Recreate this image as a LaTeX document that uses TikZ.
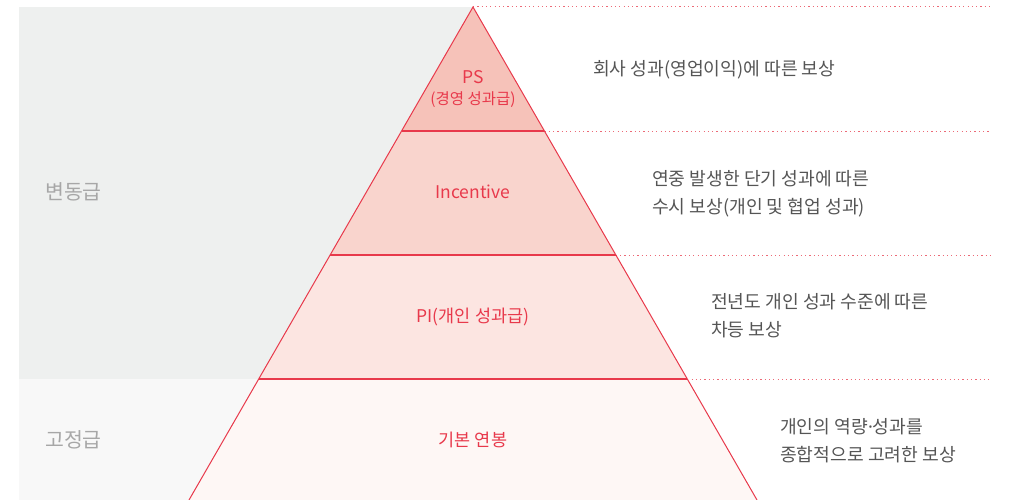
\documentclass[tikz,border=0pt]{standalone}
\usepackage{fontspec}
\setmainfont{Noto Sans CJK KR}
\newfontfamily\dotfont{Noto Sans}
\definecolor{graya}{HTML}{EEF0EF}
\definecolor{grayb}{HTML}{F8F8F8}
\definecolor{banda}{HTML}{F6C2B9}
\definecolor{bandb}{HTML}{F9D4CD}
\definecolor{bandc}{HTML}{FCE5E1}
\definecolor{bandd}{HTML}{FEF7F5}
\definecolor{pred}{HTML}{E8394B}
\definecolor{dotred}{HTML}{EC6A77}
\definecolor{lblgray}{HTML}{A7A7A7}
\definecolor{txtgray}{HTML}{555555}
\begin{document}
\begin{tikzpicture}[x=1pt,y=-1pt,
  inner/.style={text=pred,font=\fontsize{17.5}{19}\selectfont,inner sep=0pt,anchor=center},
  side/.style={text=lblgray,font=\fontsize{20.5}{22}\selectfont,inner sep=0pt,anchor=west},
  desc/.style={text=txtgray,font=\fontsize{18.2}{28}\selectfont,inner sep=0pt,anchor=west,align=left},
  guide/.style={dotred,line width=1pt,dash pattern=on 1.2pt off 3.1pt},
  edge/.style={pred,line width=1pt},
  bandline/.style={pred,line width=1.2pt}]
\useasboundingbox (0,0) rectangle (1019,500);
% background panels
\fill[graya] (19,7) rectangle (473,379);
\fill[grayb] (19,379) rectangle (473,500);
% triangle corner coordinates
\coordinate (apex) at (473,7);
\coordinate (l1) at (401.6,131); \coordinate (r1) at (544.4,131);
\coordinate (l2) at (330.2,255); \coordinate (r2) at (615.8,255);
\coordinate (l3) at (258.8,379); \coordinate (r3) at (687.2,379);
\coordinate (l4) at (189,500);   \coordinate (r4) at (757,500);
% bands
\fill[banda] (apex) -- (r1) -- (l1) -- cycle;
\fill[bandb] (l1) -- (r1) -- (r2) -- (l2) -- cycle;
\fill[bandc] (l2) -- (r2) -- (r3) -- (l3) -- cycle;
\fill[bandd] (l3) -- (r3) -- (r4) -- (l4) -- cycle;
% guides
\coordinate (g0) at (990,7);
\coordinate (g1) at (990,131);
\coordinate (g2) at (990,255);
\coordinate (g3) at (990,379);
\draw[guide] (apex) -- (g0);
\draw[guide] (r1) -- (g1);
\draw[guide] (r2) -- (g2);
\draw[guide] (r3) -- (g3);
% band lines and edges
\draw[bandline] (l1) -- (r1);
\draw[bandline] (l2) -- (r2);
\draw[bandline] (l3) -- (r3);
\draw[edge] (l4) -- (apex) -- (r4);
% inner labels
\node[inner] (ps) at (473,77) {PS};
\node[inner,font=\fontsize{15.5}{17}\selectfont] (psk) at (473,100) {(경영 성과급)};
\node[inner] (inc) at (473,192) {Incentive};
\node[inner] (pi) at (473,317) {PI(개인 성과급)};
\node[inner] (base) at (473,440) {기본 연봉};
% side labels
\node[side] (var) at (45,192) {변동급};
\node[side] (fix) at (45,440) {고정급};
% descriptions
\node[desc] (d1) at (593,70) {회사 성과(영업이익)에 따른 보상};
\node[desc] (d2) at (652,194) {연중 발생한 단기 성과에 따른\\수시 보상(개인 및 협업 성과)};
\node[desc] (d3) at (711,316) {전년도 개인 성과 수준에 따른\\차등 보상};
\node[desc] (d4) at (780,441) {개인의 역량{\dotfont ·}성과를\\종합적으로 고려한 보상};
\end{tikzpicture}
\end{document}
